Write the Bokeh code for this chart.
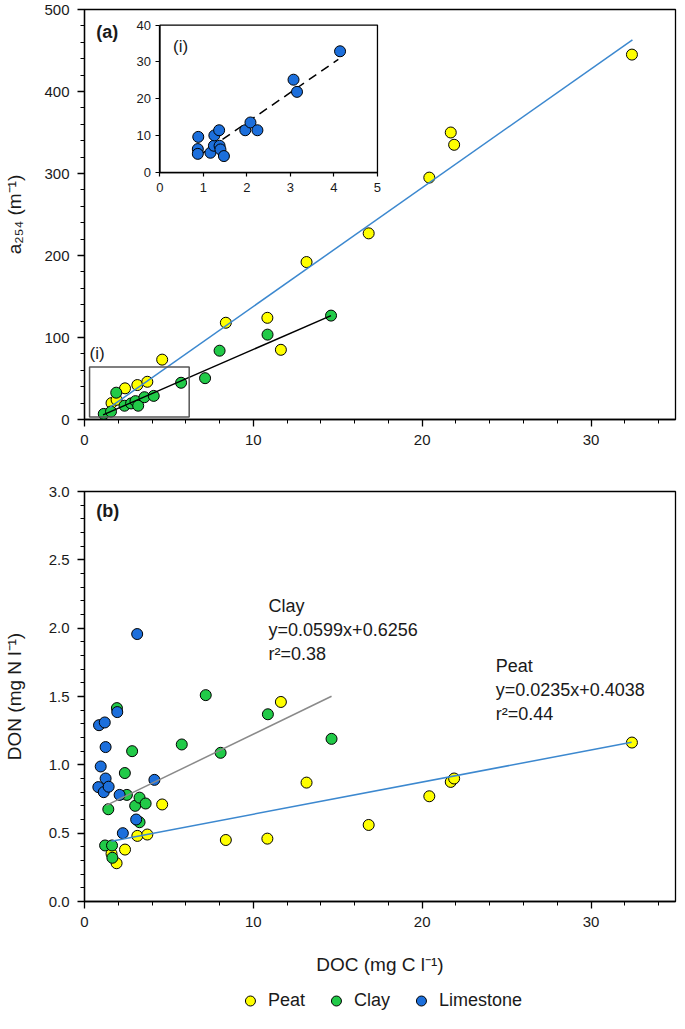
from bokeh.plotting import figure
from bokeh.layouts import column
from bokeh.models import (Range1d, LinearAxis, SingleIntervalTicker,
                          PrintfTickFormatter, Legend, LegendItem)
from bokeh.embed import file_html
from bokeh.resources import INLINE
from bokeh.core.properties import value

# ------------------------------------------------------------------ data
# Peat (same samples in both panels)
peat_doc = [1.6, 1.9, 2.4, 3.13, 3.72, 4.6, 8.37, 10.83, 11.63, 13.15, 16.83, 20.42, 21.69, 21.89, 32.42]
peat_a254 = [20, 24, 38, 42, 46, 73, 118, 124, 85, 192, 227, 295, 350, 335, 445]
peat_don = [0.35, 0.28, 0.38, 0.48, 0.49, 0.71, 0.45, 0.46, 1.46, 0.87, 0.56, 0.77, 0.875, 0.90, 1.163]

# Clay, panel (a)
clay_doc_a = [1.14, 1.57, 1.88, 2.37, 2.76, 3.02, 3.18, 3.55, 4.1, 5.72, 7.14, 8.0, 10.84, 14.6]
clay_a254 = [6.8, 9.6, 32.7, 16.8, 19.6, 22.4, 16.8, 27.2, 28.8, 44.8, 50.4, 83.9, 103.5, 126.7]
# Clay, panel (b)
clay_doc_b = [1.22, 1.41, 1.63, 1.65, 1.92, 2.39, 2.51, 2.82, 3.0, 3.26, 3.26, 3.62, 5.76, 7.18, 8.06, 10.86, 14.63]
clay_don = [0.41, 0.675, 0.41, 0.32, 1.415, 0.94, 0.78, 1.10, 0.70, 0.76, 0.58, 0.717, 1.149, 1.51, 1.088, 1.37, 1.19]

# Limestone, inset (i) of panel (a)
lime_doc_a = [0.88, 0.87, 0.87, 1.16, 1.24, 1.25, 1.36, 1.37, 1.39, 1.47, 1.96, 2.08, 2.24, 3.07, 3.15, 4.14]
lime_a254 = [9.7, 6.4, 5.1, 5.4, 7.3, 10.1, 11.5, 7.3, 6.3, 4.5, 11.5, 13.6, 11.5, 25.2, 21.9, 32.9]
# Limestone, panel (b)
lime_doc_b = [0.82, 0.86, 0.96, 1.14, 1.2, 1.25, 1.25, 1.43, 1.94, 2.08, 2.27, 3.06, 3.12, 4.14]
lime_don = [0.837, 1.29, 0.988, 0.80, 1.31, 1.13, 0.90, 0.84, 1.386, 0.78, 0.50, 0.60, 1.957, 0.89]

# Fitted lines
peat_fit_a_x = [1.5, 32.45]
peat_fit_a_y = [14.8, 463.0]
clay_fit_a_x = [1.1, 14.6]
clay_fit_a_y = [5.6, 126.7]
lime_fit_i_x = [0.87, 4.1]
lime_fit_i_y = [4.4, 30.7]
clay_fit_b_coef = (0.0599, 0.6256)
clay_fit_b_x = [1.29, 14.63]
peat_fit_b_coef = (0.0235, 0.4038)
peat_fit_b_x = [1.59, 32.4]

# zoomed region (i) in panel (a): DOC range, a254 range
zoom_doc = (0.3, 6.2)
zoom_a254 = (3, 64)
# inset axes limits
inset_xlim = (0, 5)
inset_ylim = (0, 40)

legend_labels = ["Peat", "Clay", "Limestone"]

# ------------------------------------------------------------------ style
FONT = "Liberation Sans"
TXT = "#1a1a1a"
YELLOW = "#FFFF00"
GREEN = "#21CA48"
BLUE = "#1C6FDC"
FITBLUE = "#3C88CF"
W = 677
FH = 410
MS = 11

# inset placement inside panel (a), in panel-(a) data units
INSET_BOX = (4.47, 17.35, 301.0, 481.0)


def style(p, ylab_standoff):
    p.xgrid.visible = False
    p.ygrid.visible = False
    p.outline_line_color = "black"
    p.outline_line_width = 1.3
    p.outline_line_alpha = 1
    for ax in p.axis:
        ax.major_tick_out = 7
        ax.major_tick_in = 0
        ax.minor_tick_out = 4
        ax.minor_tick_in = 0
        ax.axis_line_width = 1.3
        ax.major_tick_line_width = 1.3
        ax.minor_tick_line_width = 1
        ax.major_label_text_font = FONT
        ax.major_label_text_font_size = "15px"
        ax.major_label_text_color = TXT
        ax.major_label_standoff = 8
        ax.axis_label_text_font = FONT
        ax.axis_label_text_font_size = "19px"
        ax.axis_label_text_font_style = "normal"
        ax.axis_label_text_color = TXT
    p.yaxis.axis_label_standoff = ylab_standoff


# ------------------------------------------------------------------ panel (a)
pa = figure(width=W, height=9 + FH + 64, x_range=Range1d(0, 35), y_range=Range1d(0, 500),
            output_backend="svg", toolbar_location=None,
            min_border_left=80, min_border_right=2, min_border_top=9, min_border_bottom=64)
pa.xaxis.ticker = SingleIntervalTicker(interval=10, num_minor_ticks=5)
pa.yaxis.ticker = SingleIntervalTicker(interval=100, num_minor_ticks=5)
pa.yaxis.axis_label = "a\u2082\u2085\u2084 (m\u207b\u00b9)"
style(pa, 16)

# inset ranges: map inset limits onto INSET_BOX within the main frame
bx0, bx1, by0, by1 = INSET_BOX
fx0, fx1 = bx0 / 35.0, bx1 / 35.0
fy0, fy1 = by0 / 500.0, by1 / 500.0
Lx = (inset_xlim[1] - inset_xlim[0]) / (fx1 - fx0)
Ly = (inset_ylim[1] - inset_ylim[0]) / (fy1 - fy0)
ixs = inset_xlim[0] - fx0 * Lx
iys = inset_ylim[0] - fy0 * Ly
pa.extra_x_ranges = {"ix": Range1d(ixs, ixs + Lx)}
pa.extra_y_ranges = {"iy": Range1d(iys, iys + Ly)}

# main glyphs
pa.scatter(peat_doc, peat_a254, size=MS, fill_color=YELLOW, line_color="black", line_width=1)
pa.scatter(clay_doc_a, clay_a254, size=MS, fill_color=GREEN, line_color="black", line_width=1)
pa.line(peat_fit_a_x, peat_fit_a_y, line_color=FITBLUE, line_width=1.5)
pa.line(clay_fit_a_x, clay_fit_a_y, line_color="black", line_width=1.5)
pa.quad(left=[zoom_doc[0]], right=[zoom_doc[1]], bottom=[zoom_a254[0]], top=[zoom_a254[1]],
        fill_alpha=0, line_color="#555555", line_width=1.5)
pa.text(x=[zoom_doc[0]], y=[80], text=["(i)"], text_font=value(FONT), text_font_size="17px",
        text_color=TXT, text_baseline="middle", text_align="left")
pa.text(x=[0.7], y=[473], text=["(a)"], text_font=value(FONT), text_font_size="18px",
        text_font_style="bold", text_color=TXT, text_baseline="middle", text_align="left")

# inset
pa.quad(left=[inset_xlim[0]], right=[inset_xlim[1]], bottom=[inset_ylim[0]], top=[inset_ylim[1]],
        fill_color="white", line_color="black", line_width=1.3, x_range_name="ix", y_range_name="iy")
pa.line(lime_fit_i_x, lime_fit_i_y, line_color="black", line_width=1.5, line_dash="9 6",
        x_range_name="ix", y_range_name="iy")
pa.scatter(lime_doc_a, lime_a254, size=MS, fill_color=BLUE, line_color="black", line_width=1,
           x_range_name="ix", y_range_name="iy")
pa.text(x=[0.3], y=[34.3], text=["(i)"], text_font=value(FONT), text_font_size="17px",
        text_color=TXT, text_baseline="middle", text_align="left", x_range_name="ix", y_range_name="iy")

ixax = LinearAxis(x_range_name="ix", y_range_name="iy", fixed_location=0, bounds=inset_xlim,
                  ticker=SingleIntervalTicker(interval=1, num_minor_ticks=0))
iyax = LinearAxis(x_range_name="ix", y_range_name="iy", fixed_location=0, bounds=inset_ylim,
                  ticker=SingleIntervalTicker(interval=10, num_minor_ticks=0))
for ax in (ixax, iyax):
    ax.major_tick_out = 4
    ax.major_tick_in = 0
    ax.minor_tick_out = 0
    ax.minor_tick_in = 0
    ax.axis_line_width = 1.3
    ax.major_tick_line_width = 1.2
    ax.major_label_text_font = FONT
    ax.major_label_text_font_size = "13px"
    ax.major_label_text_color = TXT
ixax.major_label_standoff = 6
iyax.major_label_standoff = 5
pa.add_layout(ixax, "below")
pa.add_layout(iyax, "left")

# ------------------------------------------------------------------ panel (b)
pb = figure(width=W, height=8 + FH + 82, x_range=Range1d(0, 35), y_range=Range1d(0, 3),
            output_backend="svg", toolbar_location=None,
            min_border_left=80, min_border_right=2, min_border_top=8, min_border_bottom=82)
pb.xaxis.ticker = SingleIntervalTicker(interval=10, num_minor_ticks=5)
pb.yaxis.ticker = SingleIntervalTicker(interval=0.5, num_minor_ticks=5)
pb.yaxis.formatter = PrintfTickFormatter(format="%.1f")
pb.yaxis.axis_label = "DON (mg N l\u207b\u00b9)"
pb.xaxis.axis_label = "DOC (mg C l\u207b\u00b9)"
style(pb, 21)
pb.xaxis.axis_label_standoff = 24

pb.scatter(peat_doc, peat_don, size=MS, fill_color=YELLOW, line_color="black", line_width=1)
pb.scatter(clay_doc_b, clay_don, size=MS, fill_color=GREEN, line_color="black", line_width=1)
pb.scatter(lime_doc_b, lime_don, size=MS, fill_color=BLUE, line_color="black", line_width=1)

cm, cb = clay_fit_b_coef
pm, pbi = peat_fit_b_coef
pb.line(clay_fit_b_x, [cm * x + cb for x in clay_fit_b_x], line_color="#8A8A8A", line_width=1.5)
pb.line(peat_fit_b_x, [pm * x + pbi for x in peat_fit_b_x], line_color=FITBLUE, line_width=1.5)

pb.text(x=[10.9], y=[2.235], text=["Clay\ny=0.0599x+0.6256\nr\u00b2=0.38"], text_font=value(FONT),
        text_font_size="18px", text_color=TXT, text_baseline="top", text_align="left",
        text_line_height=1.2)
pb.text(x=[24.35], y=[1.794], text=["Peat\ny=0.0235x+0.4038\nr\u00b2=0.44"], text_font=value(FONT),
        text_font_size="18px", text_color=TXT, text_baseline="top", text_align="left",
        text_line_height=1.2)
pb.text(x=[0.7], y=[2.856], text=["(b)"], text_font=value(FONT), text_font_size="18px",
        text_font_style="bold", text_color=TXT, text_baseline="middle", text_align="left")

# ------------------------------------------------------------------ legend strip
pl = figure(width=W, height=30, x_range=Range1d(0, 1), y_range=Range1d(0, 1),
            x_axis_type=None, y_axis_type=None, output_backend="svg", toolbar_location=None,
            min_border_left=72, min_border_right=2, min_border_top=0, min_border_bottom=0)
pl.outline_line_color = None
pl.xgrid.visible = False
pl.ygrid.visible = False
# key glyphs: one point each, placed outside the visible range so only the legend shows them
key_renderers = []
for col in (YELLOW, GREEN, BLUE):
    key_renderers.append(pl.scatter(x=[-10], y=[-10], size=MS, fill_color=col,
                                    line_color="black", line_width=1))
legend = Legend(items=[LegendItem(label=lab, renderers=[r])
                       for lab, r in zip(legend_labels, key_renderers)],
                orientation="horizontal", location="bottom_center",
                border_line_color=None, background_fill_alpha=0,
                label_text_font=FONT, label_text_font_size="18px", label_text_color=TXT,
                glyph_width=25, glyph_height=25, label_standoff=6, spacing=18,
                padding=0, margin=0)
pl.add_layout(legend)

layout = column(pa, pb, pl, spacing=0)
open("out.html", "w").write(file_html(layout, INLINE))
